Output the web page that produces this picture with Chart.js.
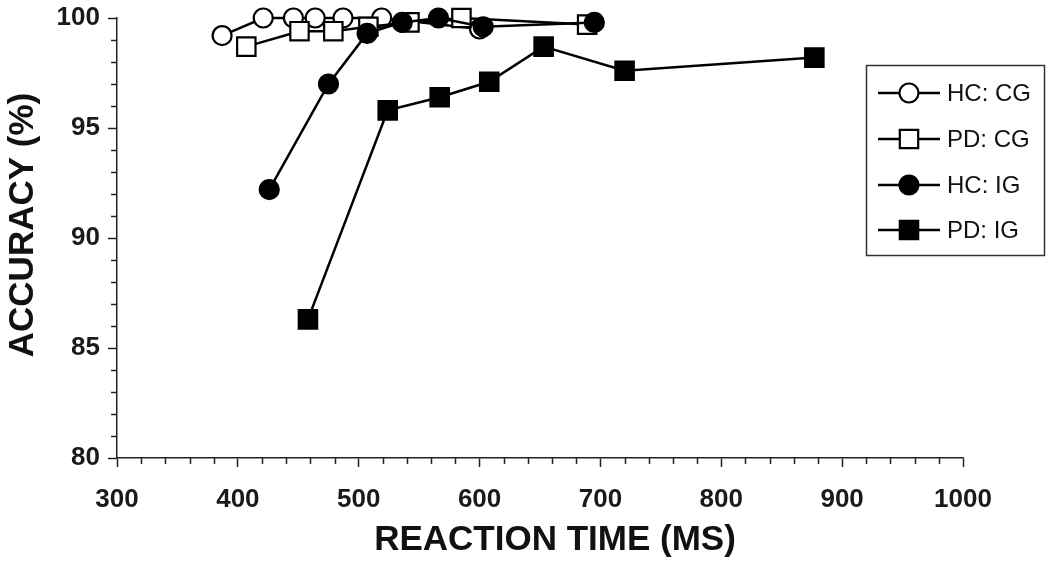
<!DOCTYPE html>
<html>
<head>
<meta charset="utf-8">
<script src="https://cdn.jsdelivr.net/npm/chart.js@4/dist/chart.umd.min.js"></script>
<style>
  html, body { margin: 0; padding: 0; background: #fff; }
  #wrap { width: 1050px; height: 562px; }
</style>
</head>
<body>
<div id="wrap"><canvas id="rt-chart" width="1050" height="562"></canvas></div>
<script>
// reaction time (ms) and accuracy (%) per bin
const seriesNames = ['HC: CG', 'PD: CG', 'HC: IG', 'PD: IG'];

const hcCgRt  = [387, 421, 446, 464, 487, 519, 600];
const hcCgAcc = [99.2, 100, 100, 100, 100, 100, 99.5];

const pdCgRt  = [407, 451, 479, 508, 542, 585, 689];
const pdCgAcc = [98.7, 99.4, 99.4, 99.6, 99.8, 100, 99.7];

const hcIgRt  = [426, 475, 507, 536, 566, 603, 695];
const hcIgAcc = [92.2, 97.0, 99.3, 99.8, 100, 99.6, 99.8];

const pdIgRt  = [458, 524, 567, 608, 653, 720, 877];
const pdIgAcc = [86.3, 95.8, 96.4, 97.1, 98.7, 97.6, 98.2];

const xTicks = [300, 400, 500, 600, 700, 800, 900, 1000];
const yTicks = [80, 85, 90, 95, 100];

const xTitle = 'REACTION TIME (MS)';
const yTitle = 'ACCURACY (%)';

function toPoints(xs, ys) {
    return xs.map((x, i) => ({ x: x, y: ys[i] }));
}

const markers = [
    { style: 'circle', radius: 9.5, fill: '#fff', order: 3 },
    { style: 'rect', radius: 13, fill: '#fff', order: 2 },
    { style: 'circle', radius: 9.5, fill: '#000', order: 0 },
    { style: 'rect', radius: 13, fill: '#000', order: 1 }
];

const allData = [
    toPoints(hcCgRt, hcCgAcc),
    toPoints(pdCgRt, pdCgAcc),
    toPoints(hcIgRt, hcIgAcc),
    toPoints(pdIgRt, pdIgAcc)
];

const datasets = seriesNames.map((name, i) => ({
    label: name,
    data: allData[i],
    borderColor: '#000',
    borderWidth: 2.5,
    pointStyle: markers[i].style,
    pointRadius: markers[i].radius,
    pointBackgroundColor: markers[i].fill,
    pointBorderColor: '#000',
    pointBorderWidth: 2.2,
    pointHoverRadius: markers[i].radius,
    order: markers[i].order,
    clip: false,
    tension: 0
}));

const FONT = '"Liberation Sans", Arial, sans-serif';

// minor ticks, axis titles and the boxed legend
const extrasPlugin = {
    id: 'extras',
    afterDraw(chart) {
        const ctx = chart.ctx;
        const xs = chart.scales.x;
        const ys = chart.scales.y;
        ctx.save();
        ctx.strokeStyle = '#222';
        ctx.lineWidth = 1.5;
        ctx.beginPath();
        for (let v = 300; v <= 1000; v += 20) {
            if (v % 100 === 0) continue;
            const px = Math.round(xs.getPixelForValue(v)) + 0.5;
            ctx.moveTo(px, xs.top);
            ctx.lineTo(px, xs.top + 6);
        }
        for (let v = 80; v <= 100; v += 1) {
            if (v % 5 === 0) continue;
            const py = Math.round(ys.getPixelForValue(v)) + 0.5;
            ctx.moveTo(ys.right - 6, py);
            ctx.lineTo(ys.right, py);
        }
        ctx.stroke();

        // axis titles
        ctx.fillStyle = '#111';
        ctx.font = 'bold 35px ' + FONT;
        ctx.textAlign = 'center';
        ctx.textBaseline = 'middle';
        ctx.fillText(xTitle, 555, 540);
        ctx.save();
        ctx.translate(23, 225);
        ctx.rotate(-Math.PI / 2);
        ctx.fillText(yTitle, 0, 0);
        ctx.restore();

        // legend
        ctx.lineWidth = 1.5;
        ctx.strokeStyle = '#333';
        ctx.strokeRect(866.5, 65.5, 178, 190);
        const rows = [93, 139, 185, 230];
        ctx.font = '24px ' + FONT;
        ctx.textAlign = 'left';
        chart.data.datasets.forEach((ds, i) => {
            const y = rows[i];
            ctx.strokeStyle = '#000';
            ctx.lineWidth = 2.5;
            ctx.beginPath();
            ctx.moveTo(878, y);
            ctx.lineTo(940, y);
            ctx.stroke();
            ctx.fillStyle = ds.pointBackgroundColor;
            ctx.lineWidth = 2.2;
            Chart.helpers.drawPoint(ctx, {
                pointStyle: ds.pointStyle,
                radius: ds.pointRadius,
                rotation: 0,
                borderWidth: 2.2
            }, 909, y);
            ctx.fillStyle = '#111';
            ctx.fillText(ds.label, 947, y + 1);
        });
        ctx.restore();
    }
};

const ctx = document.getElementById('rt-chart').getContext('2d');
new Chart(ctx, {
    type: 'line',
    data: { datasets: datasets },
    options: {
        responsive: false,
        animation: false,
        events: [],
        layout: { padding: { top: 18, right: 87, left: 0, bottom: 0 } },
        plugins: {
            legend: { display: false },
            tooltip: { enabled: false }
        },
        scales: {
            x: {
                type: 'linear',
                min: 300,
                max: 1000,
                afterBuildTicks: (scale) => { scale.ticks = xTicks.map(v => ({ value: v })); },
                afterFit: (scale) => {
                    scale.height = 104;
                    scale.paddingLeft = 0;
                    scale.paddingRight = 0;
                },
                ticks: {
                    color: '#1a1a1a',
                    padding: 17,
                    maxRotation: 0,
                    callback: (v) => String(v),
                    font: { family: FONT, size: 26, weight: 'bold' }
                },
                grid: { drawOnChartArea: false, drawTicks: true, tickLength: 9, tickWidth: 1.5, tickColor: '#222' },
                border: { color: '#222', width: 1.5 }
            },
            y: {
                type: 'linear',
                min: 80,
                max: 100,
                afterBuildTicks: (scale) => { scale.ticks = yTicks.map(v => ({ value: v })); },
                afterFit: (scale) => {
                    scale.width = 117;
                    scale.paddingTop = 0;
                    scale.paddingBottom = 0;
                },
                ticks: {
                    color: '#1a1a1a',
                    padding: 8,
                    callback: (v) => String(v),
                    font: { family: FONT, size: 26, weight: 'bold' }
                },
                grid: { drawOnChartArea: false, drawTicks: true, tickLength: 9, tickWidth: 1.5, tickColor: '#222' },
                border: { color: '#222', width: 1.5 }
            }
        }
    },
    plugins: [extrasPlugin]
});
</script>
</body>
</html>
